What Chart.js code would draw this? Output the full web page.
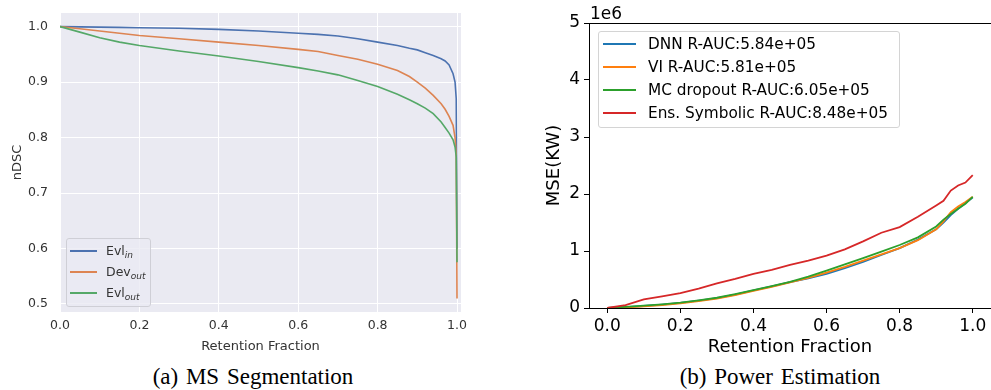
<!DOCTYPE html>
<html>
<head>
<meta charset="utf-8">
<script src="https://cdn.jsdelivr.net/npm/chart.js@4.4.0/dist/chart.umd.min.js"></script>
<style>
  body { margin: 0; width: 991px; height: 390px; background: #fff; position: relative; overflow: hidden; font-family: 'DejaVu Sans', sans-serif; }
  .wrap { position: absolute; }
  .legend { position: absolute; box-sizing: border-box; border-radius: 3px; }
  .legend .item { position: absolute; left: 0; white-space: nowrap; }
  .legend .swatch { position: absolute; height: 2px; }
  .caption { position: absolute; top: 363px; font-family: 'Liberation Serif', serif; font-size: 23px; line-height: 28px; color: #000; transform: translateX(-50%); white-space: nowrap; word-spacing: 2px; }
  #offset { position: absolute; left: 590px; top: 3px; font-size: 17px; line-height: 20px; color: #000; }
</style>
</head>
<body>
<div class="wrap" style="left:0;top:0;width:470px;height:360px"><canvas id="segChart"></canvas></div>
<div class="wrap" style="left:500px;top:0;width:491px;height:360px"><canvas id="powerChart"></canvas></div>
<div class="legend" id="segLegend" style="left:66px;top:238px;width:85px;height:69px;background:rgba(234,234,242,0.8);border:1px solid #cfcfd6;"></div>
<div class="legend" id="powerLegend" style="left:598px;top:31px;width:302px;height:97px;background:rgba(255,255,255,0.8);border:1px solid #d4d4d4;"></div>
<div id="offset">1e6</div>
<div class="caption" style="left:253px">(a) MS Segmentation</div>
<div class="caption" style="left:780px">(b) Power Estimation</div>
<script>
// ---- (a) MS Segmentation : nDSC vs retention fraction ----
const segFrac = [0, 0.05, 0.1, 0.15, 0.2, 0.3, 0.4, 0.5, 0.6, 0.65, 0.7, 0.75, 0.8, 0.85, 0.88, 0.9, 0.92, 0.94, 0.96, 0.97, 0.98, 0.99, 0.995, 0.998, 1.0];
const evlIn  = [1.0, 0.9995, 0.999, 0.9985, 0.998, 0.997, 0.995, 0.992, 0.988, 0.986, 0.983, 0.978, 0.972, 0.966, 0.961, 0.958, 0.953, 0.948, 0.942, 0.938, 0.931, 0.915, 0.9, 0.87, 0.6];
const devOut = [1.0, 0.996, 0.992, 0.988, 0.984, 0.978, 0.972, 0.966, 0.959, 0.955, 0.948, 0.941, 0.932, 0.921, 0.91, 0.9, 0.889, 0.876, 0.861, 0.851, 0.838, 0.822, 0.8, 0.77, 0.51];
const evlOut = [1.0, 0.99, 0.98, 0.972, 0.966, 0.956, 0.947, 0.937, 0.926, 0.92, 0.913, 0.903, 0.892, 0.878, 0.868, 0.861, 0.853, 0.843, 0.828, 0.818, 0.808, 0.796, 0.783, 0.765, 0.575];
const segNames = ['Evl', 'Dev', 'Evl'];
const segSubs = ['in', 'out', 'out'];
const segColors = ['#4C72B0', '#DD8452', '#55A868'];
const segXTicks = [0, 0.2, 0.4, 0.6, 0.8, 1.0];
const segXLabels = ['0.0', '0.2', '0.4', '0.6', '0.8', '1.0'];
const segYTicks = [0.5, 0.6, 0.7, 0.8, 0.9, 1.0];
const segYLabels = ['0.5', '0.6', '0.7', '0.8', '0.9', '1.0'];

// ---- (b) Power Estimation : MSE (x1e6) vs retention fraction ----
const powFrac = [0, 0.05, 0.1, 0.15, 0.2, 0.25, 0.3, 0.35, 0.4, 0.45, 0.5, 0.55, 0.6, 0.65, 0.7, 0.75, 0.8, 0.85, 0.9, 0.92, 0.94, 0.96, 0.98, 1.0];
const dnnMse = [0, 0.015, 0.035, 0.06, 0.09, 0.13, 0.175, 0.235, 0.31, 0.38, 0.455, 0.52, 0.6, 0.7, 0.81, 0.93, 1.05, 1.2, 1.38, 1.5, 1.63, 1.74, 1.84, 1.94];
const viMse  = [0, 0.01, 0.03, 0.05, 0.08, 0.12, 0.165, 0.225, 0.3, 0.37, 0.45, 0.53, 0.62, 0.72, 0.83, 0.94, 1.05, 1.19, 1.38, 1.52, 1.68, 1.78, 1.86, 1.95];
const mcMse  = [0, 0.02, 0.04, 0.065, 0.095, 0.135, 0.18, 0.245, 0.315, 0.385, 0.46, 0.55, 0.655, 0.765, 0.875, 0.99, 1.105, 1.24, 1.43, 1.55, 1.65, 1.74, 1.83, 1.95];
const ensMse = [0, 0.05, 0.15, 0.205, 0.26, 0.34, 0.43, 0.51, 0.6, 0.67, 0.755, 0.83, 0.92, 1.03, 1.17, 1.32, 1.42, 1.6, 1.8, 1.88, 2.06, 2.15, 2.2, 2.33];
const powNames = ['DNN R-AUC:5.84e+05', 'VI R-AUC:5.81e+05', 'MC dropout R-AUC:6.05e+05', 'Ens. Symbolic R-AUC:8.48e+05'];
const powColors = ['#1f77b4', '#ff7f0e', '#2ca02c', '#d62728'];
const powXTicks = [0, 0.2, 0.4, 0.6, 0.8, 1.0];
const powXLabels = ['0.0', '0.2', '0.4', '0.6', '0.8', '1.0'];
const powYTicks = [0, 1, 2, 3, 4, 5];
const powYLabels = ['0', '1', '2', '3', '4', '5'];

const pts = (xs, ys) => xs.map((x, i) => ({x: x, y: ys[i]}));
const fixTicks = (vals) => (scale) => { scale.ticks = vals.map(v => ({value: v})); };
// tamaño fijo del eje y sin márgenes extra por las etiquetas
const fixSize = (key, size) => (s) => {
  s[key] = size;
  s.paddingTop = 0; s.paddingBottom = 0; s.paddingLeft = 0; s.paddingRight = 0;
};

// fondo gris estilo seaborn
const panelBg = {
  id: 'panelBg',
  beforeDraw(chart, args, opts) {
    if (!opts.color) return;
    const {ctx, chartArea: a} = chart;
    ctx.save();
    ctx.fillStyle = opts.color;
    ctx.fillRect(a.left, a.top, a.right - a.left, a.bottom - a.top);
    ctx.restore();
  }
};
// marco negro estilo matplotlib
const frame = {
  id: 'frame',
  afterDraw(chart, args, opts) {
    if (!opts.color) return;
    const {ctx, chartArea: a} = chart;
    ctx.save();
    ctx.strokeStyle = opts.color;
    ctx.lineWidth = 1;
    ctx.strokeRect(a.left + 0.5, a.top + 0.5, a.right - a.left, a.bottom - a.top);
    ctx.restore();
  }
};

const segSeries = [evlIn, devOut, evlOut];
new Chart(document.getElementById('segChart'), {
  type: 'line',
  data: {
    datasets: segSeries.map((ys, i) => ({
      label: segNames[i] + segSubs[i],
      data: pts(segFrac, ys),
      borderColor: segColors[i],
      borderWidth: 1.6,
      pointRadius: 0,
      fill: false,
      tension: 0,
      order: 2 - i
    }))
  },
  options: {
    responsive: true,
    maintainAspectRatio: false,
    animation: false,
    layout: { padding: { top: 13, right: 9, left: 0, bottom: 0 } },
    plugins: { legend: { display: false }, tooltip: { enabled: false }, panelBg: { color: '#EAEAF2' } },
    scales: {
      x: {
        type: 'linear', min: 0, max: 1.01,
        afterBuildTicks: fixTicks(segXTicks),
        afterFit: fixSize('height', 48),
        grid: { color: '#ffffff', lineWidth: 1, drawTicks: false },
        border: { display: false },
        ticks: { color: '#333333', padding: 6, autoSkip: false, maxRotation: 0,
          font: { family: 'DejaVu Sans', size: 12.5 },
          callback: (v, i) => segXLabels[i] },
        title: { display: true, text: 'Retention Fraction', color: '#333333',
          font: { family: 'DejaVu Sans', size: 13 }, padding: { top: 0, bottom: 6 } }
      },
      y: {
        type: 'linear', min: 0.4855, max: 1.0245,
        afterBuildTicks: fixTicks(segYTicks),
        afterFit: fixSize('width', 60),
        grid: { color: '#ffffff', lineWidth: 1, drawTicks: false },
        border: { display: false },
        ticks: { color: '#333333', padding: 12, autoSkip: false,
          font: { family: 'DejaVu Sans', size: 12.5 },
          callback: (v, i) => segYLabels[i] },
        title: { display: true, text: 'nDSC', color: '#333333',
          font: { family: 'DejaVu Sans', size: 13 }, padding: { top: 10, bottom: 0 } }
      }
    }
  },
  plugins: [panelBg]
});

const powSeries = [dnnMse, viMse, mcMse, ensMse];
new Chart(document.getElementById('powerChart'), {
  type: 'line',
  data: {
    datasets: powSeries.map((ys, i) => ({
      label: powNames[i],
      data: pts(powFrac, ys),
      borderColor: powColors[i],
      borderWidth: 1.8,
      pointRadius: 0,
      fill: false,
      tension: 0,
      order: 3 - i
    }))
  },
  options: {
    responsive: true,
    maintainAspectRatio: false,
    animation: false,
    layout: { padding: { top: 23, right: 0, left: 0, bottom: 0 } },
    plugins: { legend: { display: false }, tooltip: { enabled: false }, frame: { color: '#000000' } },
    scales: {
      x: {
        type: 'linear', min: -0.05, max: 1.05,
        afterBuildTicks: fixTicks(powXTicks),
        afterFit: fixSize('height', 52),
        grid: { color: '#000000', drawOnChartArea: false, drawTicks: true, tickLength: 5 },
        border: { display: true, color: '#000000', width: 1 },
        ticks: { color: '#000000', padding: 3, autoSkip: false, maxRotation: 0,
          font: { family: 'DejaVu Sans', size: 17 },
          callback: (v, i) => powXLabels[i] },
        title: { display: true, text: 'Retention Fraction', color: '#000000',
          font: { family: 'DejaVu Sans', size: 18 }, padding: { top: 0, bottom: 1.5 } }
      },
      y: {
        type: 'linear', min: 0, max: 5,
        afterBuildTicks: fixTicks(powYTicks),
        afterFit: fixSize('width', 89),
        grid: { color: '#000000', drawOnChartArea: false, drawTicks: true, tickLength: 5 },
        border: { display: true, color: '#000000', width: 1 },
        ticks: { color: '#000000', padding: 4, autoSkip: false,
          font: { family: 'DejaVu Sans', size: 17 },
          callback: (v, i) => powYLabels[i] },
        title: { display: true, text: 'MSE(KW)', color: '#000000',
          font: { family: 'DejaVu Sans', size: 18 }, padding: { top: 44, bottom: 0 } }
      }
    }
  },
  plugins: [frame]
});

// leyendas en HTML (para los subíndices)
const segLegend = document.getElementById('segLegend');
segNames.forEach((name, i) => {
  const cy = 12 + i * 21;
  const item = document.createElement('div');
  item.className = 'item';
  item.style.top = (cy - 8) + 'px';
  item.style.height = '16px';
  item.innerHTML = '<span class="swatch" style="left:3px;top:7px;width:27px;background:' + segColors[i] + '"></span>' +
    '<span style="position:absolute;left:39px;top:0;font-size:12.5px;line-height:16px;color:#333">' + name +
    '<i style="font-size:9px;position:relative;top:3px">' + segSubs[i] + '</i></span>';
  segLegend.appendChild(item);
});

const powLegend = document.getElementById('powerLegend');
powNames.forEach((name, i) => {
  const cy = 12 + i * 23;
  const item = document.createElement('div');
  item.className = 'item';
  item.style.top = (cy - 10) + 'px';
  item.style.height = '20px';
  item.innerHTML = '<span class="swatch" style="left:4px;top:9px;width:33px;background:' + powColors[i] + '"></span>' +
    '<span style="position:absolute;left:49px;top:0;font-size:15.3px;line-height:20px;color:#000">' + name + '</span>';
  powLegend.appendChild(item);
});
</script>
</body>
</html>
